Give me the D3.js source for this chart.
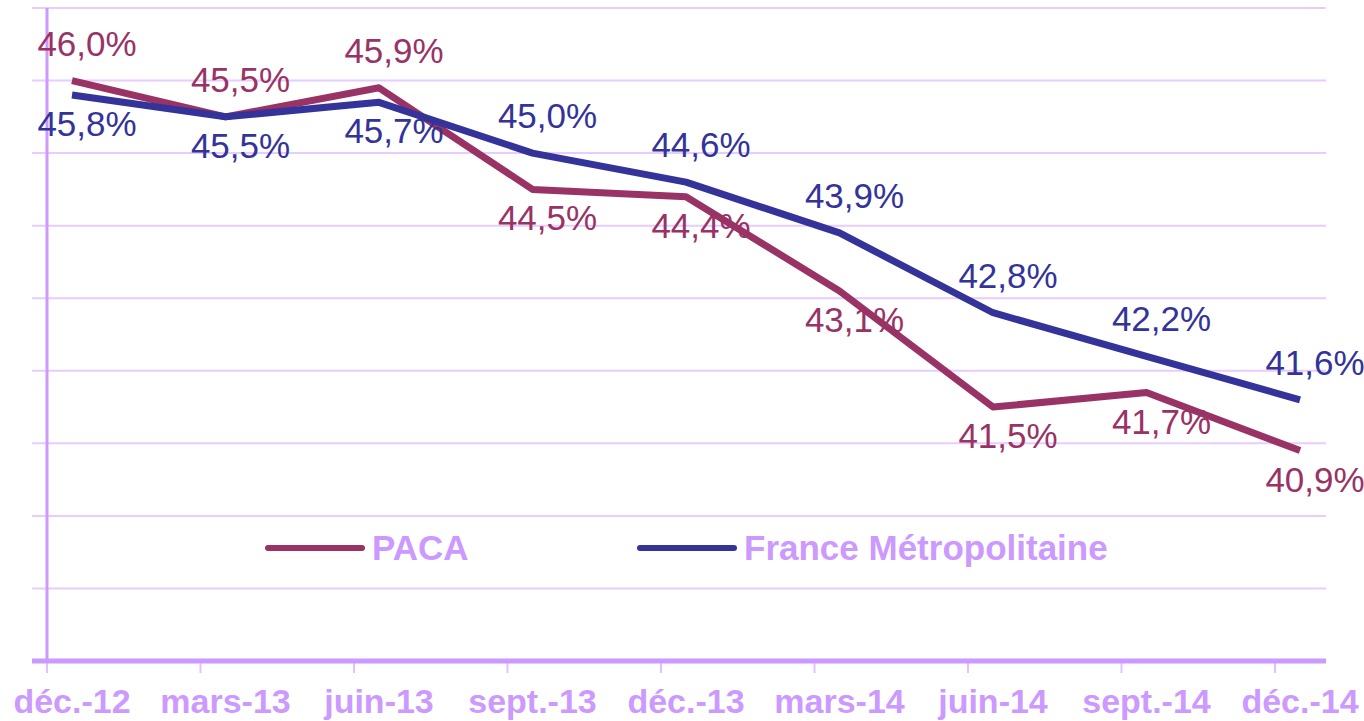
<!DOCTYPE html>
<html>
<head>
<meta charset="utf-8">
<script src="https://cdn.jsdelivr.net/npm/d3@7"></script>
<style>
  body { margin: 0; background: #fff; }
  svg { display: block; font-family: "Liberation Sans", Arial, sans-serif; }
</style>
</head>
<body>
<div id="chart"></div>
<script>
// data
let categories = ["déc.-12", "mars-13", "juin-13", "sept.-13", "déc.-13", "mars-14", "juin-14", "sept.-14", "déc.-14"];
let paca = [46.0, 45.5, 45.9, 44.5, 44.4, 43.1, 41.5, 41.7, 40.9];
let france = [45.8, 45.5, 45.7, 45.0, 44.6, 43.9, 42.8, 42.2, 41.6];
let yTicks = [38, 39, 40, 41, 42, 43, 44, 45, 46, 47];

let width = 1364;
let height = 721;
let plotLeft = 47;
let plotRight = 1326;
let plotTop = 8;
let plotBottom = 661;

let gridColor = "#e6ccff";
let axisColor = "#cc99ff";
let pacaColor = "#993366";
let franceColor = "#333399";

let svg = d3.select("#chart")
  .append("svg")
  .attr("width", width)
  .attr("height", height);

let x = d3.scalePoint().domain(categories).range([72, 1300]);
let y = d3.scaleLinear().domain([38, 47]).range([plotBottom, plotTop]);

// horizontal gridlines
svg.append("g")
  .selectAll("line")
  .data(yTicks.slice(1))
  .join("line")
  .attr("x1", 32)
  .attr("x2", plotRight)
  .attr("y1", d => y(d))
  .attr("y2", d => y(d))
  .attr("stroke", gridColor)
  .attr("stroke-width", 2);

// y axis line
svg.append("line")
  .attr("x1", plotLeft).attr("x2", plotLeft)
  .attr("y1", plotTop).attr("y2", plotBottom)
  .attr("stroke", axisColor)
  .attr("stroke-width", 3);

// x axis line + tick marks
svg.append("line")
  .attr("x1", 32).attr("x2", plotRight)
  .attr("y1", plotBottom).attr("y2", plotBottom)
  .attr("stroke", axisColor)
  .attr("stroke-width", 5);

svg.append("g")
  .selectAll("line")
  .data(categories)
  .join("line")
  .attr("x1", d => x(d) - 25)
  .attr("x2", d => x(d) - 25)
  .attr("y1", plotBottom)
  .attr("y2", plotBottom + 12)
  .attr("stroke", axisColor)
  .attr("stroke-opacity", 0.6)
  .attr("stroke-width", 2);

// category labels
svg.append("g")
  .selectAll("text")
  .data(categories)
  .join("text")
  .attr("x", d => x(d))
  .attr("y", 713)
  .attr("text-anchor", "middle")
  .attr("font-size", 34)
  .attr("font-weight", "bold")
  .attr("fill", axisColor)
  .text(d => d);

let line = d3.line()
  .x((d, i) => x(categories[i]))
  .y(d => y(d));

let series = [
  { name: "PACA", values: paca, other: france, color: pacaColor, top: (a, b) => a >= b },
  { name: "France Métropolitaine", values: france, other: paca, color: franceColor, top: (a, b) => a > b }
];

series.forEach(s => {
  svg.append("path")
    .datum(s.values)
    .attr("d", line)
    .attr("fill", "none")
    .attr("stroke", s.color)
    .attr("stroke-width", 7)
    .attr("stroke-linejoin", "round");
});

let fmt = v => v.toFixed(1).replace(".", ",") + "%";

series.forEach(s => {
  svg.append("g")
    .selectAll("text")
    .data(s.values)
    .join("text")
    .attr("x", (d, i) => x(categories[i]) + 15)
    .attr("y", (d, i) => y(d) + (s.top(d, s.other[i]) ? -25 : 41))
    .attr("text-anchor", "middle")
    .attr("font-size", 35)
    .attr("fill", s.color)
    .text(d => fmt(d));
});

// legend
let legend = svg.append("g");
let legendPos = [268, 640];
series.forEach((s, i) => {
  legend.append("line")
    .attr("x1", legendPos[i]).attr("x2", legendPos[i] + 94)
    .attr("y1", 548).attr("y2", 548)
    .attr("stroke", s.color)
    .attr("stroke-width", 6)
    .attr("stroke-linecap", "round");
  legend.append("text")
    .attr("x", legendPos[i] + 104)
    .attr("y", 560)
    .attr("font-size", 35)
    .attr("font-weight", "bold")
    .attr("fill", axisColor)
    .text(s.name);
});
</script>
</body>
</html>
